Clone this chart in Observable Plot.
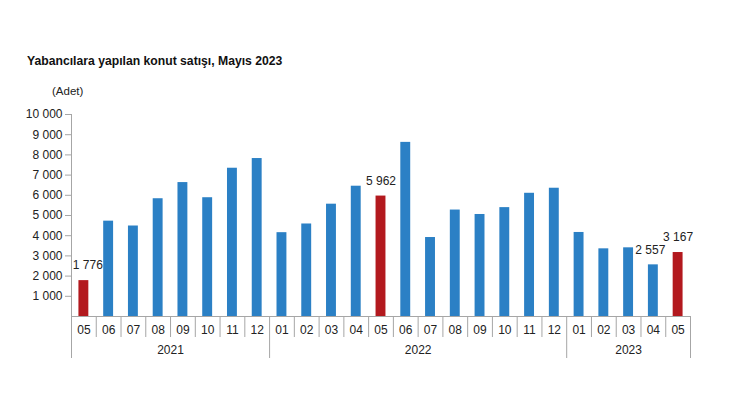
<!DOCTYPE html>
<html>
<head>
<meta charset="utf-8">
<script src="https://cdn.jsdelivr.net/npm/d3@7"></script>
<script src="https://cdn.jsdelivr.net/npm/@observablehq/plot@0.6"></script>
<style>
  html, body { margin: 0; padding: 0; background: #fff; }
  #wrap { width: 730px; font-family: "Liberation Sans", Arial, sans-serif; color: #222; }
  #head { position: relative; height: 100px; }
  #title { position: absolute; left: 27px; top: 54px; font-size: 12.2px; font-weight: bold; color: #111; white-space: nowrap; }
  #unit { position: absolute; left: 52px; top: 85px; font-size: 11.5px; color: #222; }
  svg { display: block; }
</style>
</head>
<body>
<div id="wrap">
  <div id="head">
    <div id="title">Yabancılara yapılan konut satışı, Mayıs 2023</div>
    <div id="unit">(Adet)</div>
  </div>
  <div id="chart"></div>
</div>
<script>
const periods = ["2021-05","2021-06","2021-07","2021-08","2021-09","2021-10","2021-11","2021-12",
  "2022-01","2022-02","2022-03","2022-04","2022-05","2022-06","2022-07","2022-08","2022-09","2022-10","2022-11","2022-12",
  "2023-01","2023-02","2023-03","2023-04","2023-05"];
const values = [1776, 4720, 4480, 5830, 6630, 5880, 7340, 7820,
  4150, 4580, 5560, 6450, 5962, 8620, 3910, 5270, 5050, 5390, 6100, 6350,
  4160, 3350, 3400, 2557, 3167];
const highlighted = ["2021-05", "2022-05", "2023-05"];
const labeledCenter = ["2022-05", "2023-05"];
const labeledRight = ["2021-05"];
const labeledLeft = ["2023-04"];
const yTicks = [1000, 2000, 3000, 4000, 5000, 6000, 7000, 8000, 9000, 10000];

const blue = "#2b80c5";
const red = "#b3191e";
const gridGrey = "#a6a6a6";

const data = periods.map((p, i) => ({i, period: p, year: p.slice(0, 4), month: p.slice(5), value: values[i]}));
const fmt = d => d3.format(",")(d).replace(/,/g, " ");

const yearNames = Array.from(new Set(data.map(d => d.year)));
const yearGroups = yearNames.map(y => {
  const rows = data.filter(d => d.year === y);
  const a = rows[0].i, b = rows[rows.length - 1].i;
  return {year: y, start: a - 0.5, end: b + 0.5, center: (a + b) / 2};
});
const yearSeps = [yearGroups[0].start, ...yearGroups.map(g => g.end)];
const monthSeps = data.slice(0, -1).map(d => d.i + 0.5).filter(v => !yearSeps.includes(v));

const valueLabel = (list, dx) => Plot.text(data.filter(d => list.includes(d.period)), {
  x: "i", y: "value", text: d => fmt(d.value), dx, dy: -15, lineAnchor: "middle", fill: "#222", fontSize: 12
});

const chart = Plot.plot({
  width: 730,
  height: 320,
  marginLeft: 71,
  marginRight: 40,
  marginTop: 14,
  marginBottom: 104,
  style: {fontFamily: "'Liberation Sans', Arial, sans-serif", fontSize: "11.5px", color: "#222", background: "#fff"},
  x: {type: "linear", domain: [-0.5, data.length - 0.5], axis: null},
  y: {domain: [0, 10000], axis: null},
  marks: [
    Plot.rectY(data, {x1: d => d.i - 0.2, x2: d => d.i + 0.2, y1: 0, y2: "value",
      fill: d => highlighted.includes(d.period) ? red : blue}),
    Plot.ruleY([0], {stroke: gridGrey}),
    Plot.ruleX([-0.5], {y1: 0, y2: 10000, stroke: gridGrey}),
    Plot.axisY({ticks: yTicks, tickSize: 6, tickPadding: 3, tickFormat: fmt, label: null,
      stroke: gridGrey, fill: "#222", fontSize: 12}),
    Plot.axisX({ticks: monthSeps, tickSize: 21, tickFormat: () => "", label: null, stroke: gridGrey}),
    Plot.axisX({ticks: yearSeps, tickSize: 42, tickFormat: () => "", label: null, stroke: gridGrey}),
    Plot.text(data, {x: "i", text: "month", frameAnchor: "bottom", dy: 14, lineAnchor: "middle", fill: "#222", fontSize: 12}),
    Plot.text(yearGroups, {x: "center", text: "year", frameAnchor: "bottom", dy: 34, lineAnchor: "middle", fill: "#222", fontSize: 12}),
    valueLabel(labeledCenter, 0),
    valueLabel(labeledRight, 4),
    valueLabel(labeledLeft, -3)
  ]
});
document.getElementById("chart").appendChild(chart);
</script>
</body>
</html>
